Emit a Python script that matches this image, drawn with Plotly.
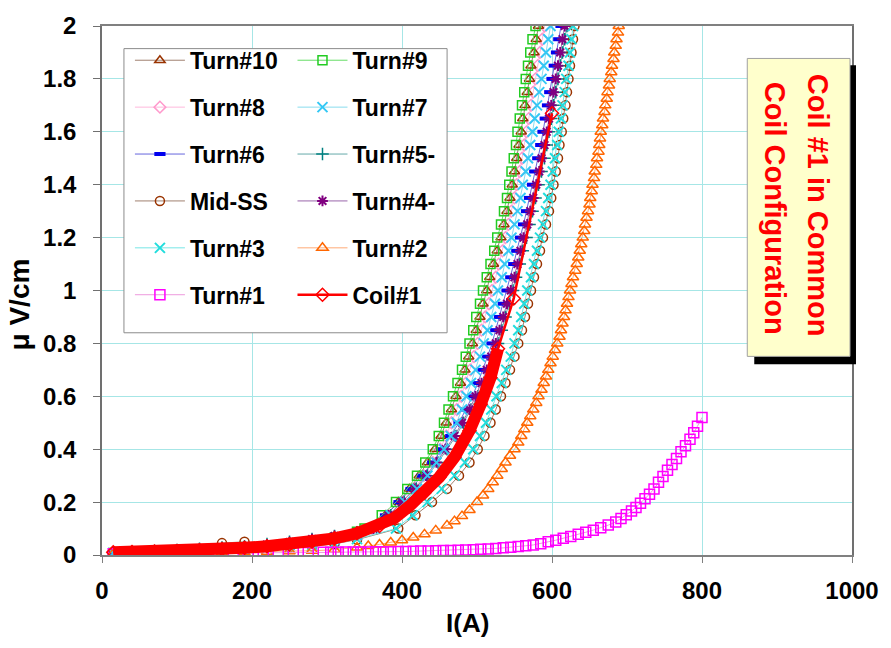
import plotly.graph_objects as go

# ---------------- data ----------------
LOW_I = [15, 40, 70, 100, 130, 160, 190, 220, 250, 280, 310, 340]
V_LEVELS = [0.1, 0.15, 0.2, 0.25, 0.3, 0.35, 0.4, 0.45, 0.5, 0.55,
            0.6, 0.65, 0.7, 0.75, 0.8, 0.85, 0.9, 0.95, 1.0, 1.05,
            1.1, 1.15, 1.2, 1.25, 1.3, 1.35, 1.4, 1.45, 1.5, 1.55,
            1.6, 1.65, 1.7, 1.75, 1.8, 1.85, 1.9, 1.95, 2.0]

# low-current voltages (at LOW_I)
TURN10_LOW = [0.008, 0.01, 0.012, 0.015, 0.018, 0.022, 0.026, 0.031, 0.038, 0.048, 0.062, 0.082]
TURN9_LOW = [0.008, 0.01, 0.012, 0.015, 0.018, 0.022, 0.026, 0.032, 0.04, 0.05, 0.065, 0.088]
TURN8_LOW = [0.008, 0.009, 0.011, 0.014, 0.017, 0.021, 0.025, 0.03, 0.037, 0.047, 0.06, 0.078]
TURN7_LOW = [0.007, 0.009, 0.011, 0.014, 0.017, 0.021, 0.025, 0.03, 0.037, 0.046, 0.058, 0.075]
TURN6_LOW = [0.01, 0.012, 0.015, 0.018, 0.022, 0.027, 0.032, 0.04, 0.048, 0.058, 0.07, 0.085]
TURN5_LOW = [0.01, 0.012, 0.015, 0.019, 0.023, 0.028, 0.033, 0.041, 0.05, 0.06, 0.072, 0.086]
MIDSS_LOW = [0.006, 0.007, 0.009, 0.012, 0.015, 0.045, 0.05, 0.03, 0.028, 0.033, 0.042, 0.058]
TURN4_LOW = [0.01, 0.012, 0.015, 0.018, 0.022, 0.027, 0.032, 0.04, 0.049, 0.06, 0.072, 0.087]
TURN3_LOW = [0.006, 0.007, 0.009, 0.011, 0.013, 0.016, 0.02, 0.024, 0.028, 0.034, 0.044, 0.06]

# currents where each curve of the central bundle crosses V_LEVELS
TURN10_I = [356, 378, 395, 410, 423, 434, 444, 452, 459, 466, 472, 478, 484, 489, 494, 499, 504, 508, 513, 517,
            522, 527, 532, 536, 540, 544, 547, 550, 553, 556, 559, 561, 564, 567, 570, 572, 576, 579, 582]
TURN9_I = [350, 373, 392, 407, 420, 431, 441, 449, 456, 462, 468, 474, 480, 485, 490, 495, 499, 504, 508, 513,
           518, 523, 527, 532, 536, 540, 543, 546, 549, 552, 554, 557, 560, 563, 565, 568, 571, 574, 578]
TURN8_I = [360, 382, 400, 416, 429, 441, 451, 459, 466, 473, 479, 485, 491, 496, 501, 506, 511, 516, 520, 525,
           529, 534, 538, 542, 546, 550, 553, 557, 560, 563, 566, 569, 572, 575, 578, 581, 584, 587, 590]
TURN7_I = [364, 385, 404, 420, 434, 446, 456, 465, 473, 480, 486, 492, 498, 504, 509, 514, 519, 524, 528, 533,
           537, 542, 546, 550, 554, 558, 561, 565, 568, 571, 574, 577, 580, 583, 586, 589, 592, 595, 598]
TURN6_I = [360, 378, 396, 412, 427, 441, 453, 465, 476, 485, 494, 501, 508, 514, 520, 525, 530, 535, 540, 545,
           549, 553, 558, 562, 566, 570, 574, 577, 581, 585, 588, 591, 594, 597, 600, 603, 606, 609, 612]
TURN5_I = [366, 385, 403, 419, 434, 448, 460, 472, 482, 492, 501, 509, 516, 522, 528, 533, 538, 543, 548, 552,
           557, 561, 566, 570, 574, 578, 582, 586, 590, 593, 596, 599, 602, 605, 608, 611, 614, 617, 620]
MIDSS_I = [395, 418, 440, 460, 476, 490, 501, 510, 518, 525, 532, 538, 544, 550, 555, 560, 564, 568, 572, 576,
           580, 584, 588, 592, 596, 599, 602, 605, 608, 610, 613, 615, 618, 620, 622, 624, 626, 628, 630]
TURN4_I = [362, 382, 400, 417, 432, 446, 458, 470, 480, 490, 498, 506, 513, 519, 525, 530, 535, 540, 545, 550,
           554, 558, 562, 567, 571, 575, 579, 583, 586, 590, 593, 596, 599, 602, 605, 608, 611, 614, 617]
TURN3_I = [392, 414, 434, 453, 470, 484, 495, 504, 512, 519, 526, 533, 539, 545, 550, 555, 559, 563, 567, 572,
           576, 580, 584, 588, 592, 595, 598, 601, 604, 607, 609, 612, 614, 617, 619, 622, 624, 626, 628]

TURN2_I = [15, 40, 70, 100, 130, 160, 190, 220, 250, 280, 310, 340,
           355, 370, 385, 400, 415, 430, 445, 460, 470, 480, 490, 500,
           508, 515, 521, 527, 533, 538, 544, 550, 555, 559, 563, 567,
           571, 575, 579, 582, 586, 589, 592, 595, 598, 601, 604, 607,
           610, 612, 614, 616, 618, 620, 622, 624, 626, 628, 631, 633,
           635, 637, 639, 641, 643, 644, 646, 648, 650, 651, 653, 654,
           656, 657, 659, 660, 662, 663, 664, 665, 667, 668, 670, 671,
           673, 674, 676, 677, 679, 680, 682, 683, 685, 686, 688, 689]
TURN2_V = [0.005, 0.006, 0.006, 0.007, 0.008, 0.009, 0.01, 0.012, 0.014, 0.016, 0.02, 0.028,
           0.034, 0.04, 0.047, 0.056, 0.066, 0.078, 0.093, 0.112, 0.128, 0.147, 0.17, 0.2,
           0.225, 0.25, 0.275, 0.3, 0.325, 0.35, 0.375, 0.4, 0.425, 0.45, 0.475, 0.5,
           0.525, 0.55, 0.575, 0.6, 0.625, 0.65, 0.675, 0.7, 0.725, 0.75, 0.775, 0.8,
           0.825, 0.85, 0.875, 0.9, 0.925, 0.95, 0.975, 1.0, 1.025, 1.05, 1.075, 1.1,
           1.125, 1.15, 1.175, 1.2, 1.225, 1.25, 1.275, 1.3, 1.325, 1.35, 1.375, 1.4,
           1.425, 1.45, 1.475, 1.5, 1.525, 1.55, 1.575, 1.6, 1.625, 1.65, 1.675, 1.7,
           1.725, 1.75, 1.775, 1.8, 1.825, 1.85, 1.875, 1.9, 1.925, 1.95, 1.975, 2.0]

TURN1_I = [15, 35, 55, 75, 95, 115, 135, 155, 175, 195, 215, 235, 255, 275,
           295, 305, 315, 325, 335, 345, 355, 365, 375, 385,
           395, 405, 415, 425, 435, 445, 455, 465, 475, 485,
           495, 505, 515, 525, 535, 545, 555, 565, 575, 585,
           595, 605, 615, 625, 635, 645, 655, 665, 675, 685,
           692, 699, 706,
           712, 718, 724, 730, 736, 742, 748, 754, 760, 766, 772, 778, 784,
           789, 794, 800]
TURN1_V = [0.005, 0.005, 0.005, 0.006, 0.006, 0.006, 0.007, 0.007, 0.007, 0.008, 0.008, 0.008, 0.009, 0.009,
           0.01, 0.01, 0.01, 0.011, 0.011, 0.011, 0.011, 0.012, 0.012, 0.012,
           0.013, 0.013, 0.014, 0.015, 0.015, 0.016, 0.017, 0.017, 0.018, 0.019,
           0.02, 0.022, 0.023, 0.025, 0.027, 0.029, 0.032, 0.035, 0.038, 0.043,
           0.05, 0.056, 0.063, 0.07, 0.078, 0.086, 0.094, 0.103, 0.113, 0.125,
           0.138, 0.152, 0.166,
           0.18, 0.196, 0.213, 0.23, 0.25, 0.275, 0.297, 0.32, 0.342, 0.365, 0.39, 0.413, 0.438,
           0.462, 0.487, 0.52]

COIL1_I = [15, 40, 70, 100, 130, 160, 190, 220, 250, 280, 310, 340, 370, 390, 410, 430, 450, 470, 490, 505,
           518, 528, 549, 600]
COIL1_V = [0.01, 0.011, 0.013, 0.015, 0.018, 0.022, 0.027, 0.033, 0.04, 0.05,
           0.063, 0.082, 0.11, 0.14, 0.185, 0.235, 0.295, 0.37, 0.47, 0.57,
           0.67, 0.78, 0.97, 1.67]
COIL1_DENSE_COUNT = 22  # points of the densely sampled part

X_TICKS = [0, 200, 400, 600, 800, 1000]
Y_TICKS = [0, 0.2, 0.4, 0.6, 0.8, 1, 1.2, 1.4, 1.6, 1.8, 2]

FONT = "Liberation Sans, Arial, sans-serif"

# ---------------- figure ----------------
W, H = 891, 648
ML, MR, MT, MB = 102, 37, 17, 93
PW, PH = W - ML - MR, H - MT - MB


def px_x(p):
    return (p - ML) / PW


def px_y(p):
    return (H - MB - p) / PH


fig = go.Figure()


def add(name, x, y, color, symbol, legend, rank, size=9, lw=1.5, linecolor=None, linewidth=1):
    fig.add_trace(go.Scatter(
        x=x, y=y, name=name, mode="lines+markers", legend=legend, legendgroup=name,
        legendrank=rank,
        line=dict(color=linecolor or color, width=linewidth),
        marker=dict(symbol=symbol, size=size, color=color,
                    line=dict(color=color, width=lw)),
        hoverinfo="skip"))


# drawing order (bottom -> top); legend order set by rank
add("Turn#8", LOW_I + TURN8_I, TURN8_LOW + V_LEVELS, "#FF99CC", "diamond-open", "legend", 2, linecolor="#FFB8DD")
add("Turn#10", LOW_I + TURN10_I, TURN10_LOW + V_LEVELS, "#993300", "triangle-up-open", "legend", 1, linecolor="#A08070")
add("Turn#6", LOW_I + TURN6_I, TURN6_LOW + V_LEVELS, "#0000EE", "line-ew-open", "legend", 3, size=8, lw=4, linecolor="#6666DD")
add("Turn#5-", LOW_I + TURN5_I, TURN5_LOW + V_LEVELS, "#008080", "cross-thin-open", "legend2", 3, lw=1.5, linecolor="#66AAAA")
add("Mid-SS", LOW_I + MIDSS_I, MIDSS_LOW + V_LEVELS, "#993300", "circle-open", "legend", 4, linecolor="#A08070")
add("Turn#9", LOW_I + TURN9_I, TURN9_LOW + V_LEVELS, "#22CC22", "square-open", "legend2", 1, linecolor="#66DD66")
add("Turn#4-", LOW_I + TURN4_I, TURN4_LOW + V_LEVELS, "#800080", "asterisk-open", "legend2", 4, lw=2, linecolor="#9966AA")
add("Turn#3", LOW_I + TURN3_I, TURN3_LOW + V_LEVELS, "#22DDDD", "x-thin-open", "legend", 5, size=10, lw=2, linecolor="#77E6E6")
add("Turn#7", LOW_I + TURN7_I, TURN7_LOW + V_LEVELS, "#33C8F5", "x-thin-open", "legend2", 2, size=10, lw=2, linecolor="#88DDEE")
add("Turn#2", TURN2_I, TURN2_V, "#FF6600", "triangle-up-open", "legend2", 5, size=10, linecolor="#FFAA77")
add("Turn#1", TURN1_I, TURN1_V, "#FF00FF", "square-open", "legend", 6, size=10, linecolor="#EE99DD")

# densely sampled part of Coil#1 rendered as a thick band (same data)
fig.add_trace(go.Scatter(
    x=COIL1_I[:COIL1_DENSE_COUNT], y=COIL1_V[:COIL1_DENSE_COUNT], mode="lines",
    line=dict(color="#FF0000", width=12), showlegend=False, legend="legend2",
    legendgroup="Coil#1", legendrank=6, hoverinfo="skip"))
add("Coil#1", COIL1_I, COIL1_V, "#FF0000", "diamond-open", "legend2", 6, size=10, lw=1.5, linewidth=2.5)

# ---------------- decorations ----------------
shapes = [
    # legend frame
    dict(type="rect", xref="paper", yref="paper", layer="above",
         x0=px_x(124), x1=px_x(448), y0=px_y(329), y1=px_y(40),
         fillcolor="white", line=dict(color="#8C8C8C", width=1)),
    # text box shadow and box
    dict(type="rect", xref="paper", yref="paper", layer="above",
         x0=px_x(756), x1=px_x(858), y0=px_y(361), y1=px_y(57),
         fillcolor="black", line=dict(width=0)),
    dict(type="rect", xref="paper", yref="paper", layer="above",
         x0=px_x(749), x1=px_x(852), y0=px_y(353), y1=px_y(50),
         fillcolor="#FFFFCC", line=dict(color="#A0A0A0", width=1)),
]

annotations = [
    dict(text="Coil #1 in Common", x=px_x(820), y=px_y(199), xref="paper", yref="paper",
         showarrow=False, textangle=90, xanchor="center", yanchor="middle",
         font=dict(family=FONT, size=29, color="#FF0000", weight="bold")),
    dict(text="Coil Configuration", x=px_x(777), y=px_y(202), xref="paper", yref="paper",
         showarrow=False, textangle=90, xanchor="center", yanchor="middle",
         font=dict(family=FONT, size=29, color="#FF0000", weight="bold")),
    dict(text="I(A)", x=px_x(468), y=px_y(624), xref="paper", yref="paper",
         showarrow=False, xanchor="center", yanchor="middle",
         font=dict(family=FONT, size=26, color="black", weight="bold")),
    dict(text="μ V/cm", x=px_x(19), y=px_y(300), xref="paper", yref="paper",
         showarrow=False, textangle=-90, xanchor="center", yanchor="middle",
         font=dict(family=FONT, size=28, color="black", weight="bold")),
]

legend_common = dict(
    xanchor="left", yanchor="top", bgcolor="rgba(0,0,0,0)", borderwidth=0,
    font=dict(family=FONT, size=23, color="black", weight="bold"),
    itemwidth=50, tracegroupgap=14, traceorder="grouped", itemclick=False, itemdoubleclick=False)

fig.update_layout(
    width=W, height=H,
    margin=dict(l=ML, r=MR, t=MT, b=MB),
    paper_bgcolor="white", plot_bgcolor="white",
    showlegend=True,
    legend=dict(x=px_x(130), y=px_y(30), **legend_common),
    legend2=dict(x=px_x(293), y=px_y(30), **legend_common),
    shapes=shapes, annotations=annotations,
    font=dict(family=FONT, color="black"),
)

fig.update_xaxes(
    range=[0, 1000], tickvals=X_TICKS, showgrid=True, gridcolor="#A6E6E6", gridwidth=1,
    zeroline=False, showline=True, linecolor="#808080", linewidth=1.5, mirror=True,
    ticks="outside", ticklen=6, tickcolor="#808080", ticklabelstandoff=7,
    tickfont=dict(family=FONT, size=24, color="black", weight="bold"))
fig.update_yaxes(
    range=[0, 2], tickvals=Y_TICKS, showgrid=True, gridcolor="#A6E6E6", gridwidth=1,
    zeroline=False, showline=True, linecolor="#707070", linewidth=1.5, mirror=True,
    ticks="outside", ticklen=7, tickcolor="#707070", ticklabelstandoff=12,
    tickfont=dict(family=FONT, size=24, color="black", weight="bold"))

fig.write_html("out.html")
